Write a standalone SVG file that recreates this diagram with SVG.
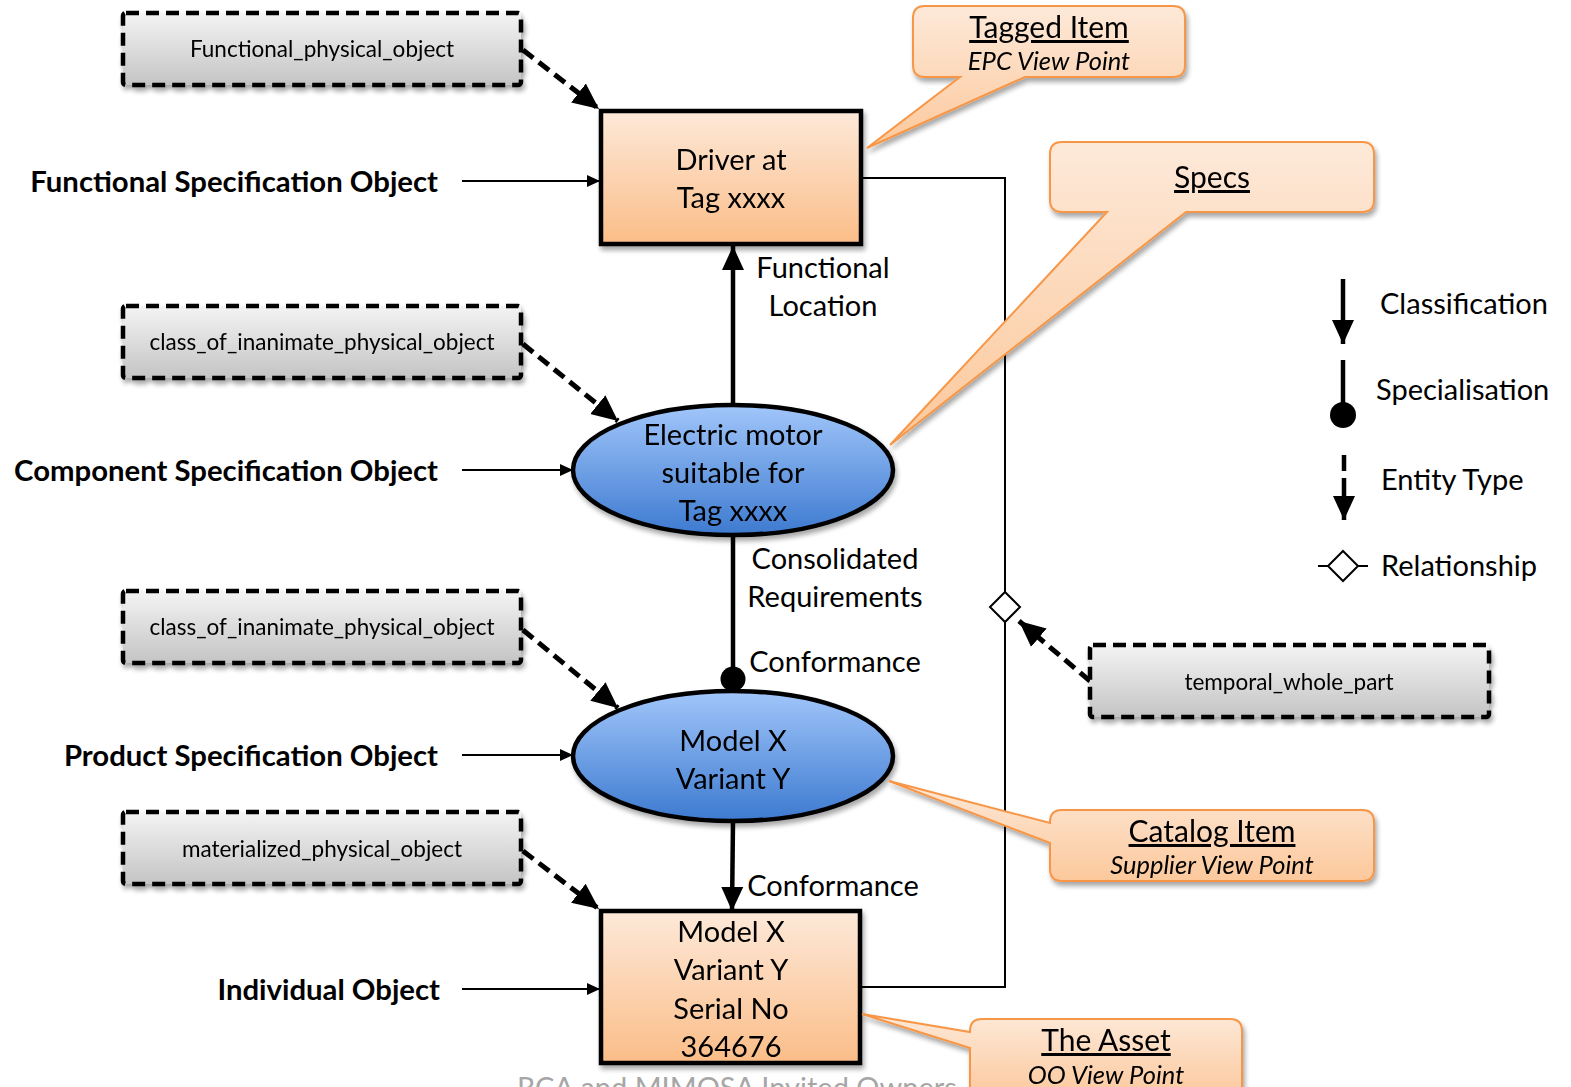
<svg xmlns="http://www.w3.org/2000/svg" width="1571" height="1087" viewBox="0 0 1571 1087">
  <defs>
    <linearGradient id="gGrey" x1="0" y1="0" x2="0" y2="1">
      <stop offset="0" stop-color="#f4f4f4"/>
      <stop offset="1" stop-color="#c4c4c4"/>
    </linearGradient>
    <linearGradient id="gOrange" x1="0" y1="0" x2="0" y2="1">
      <stop offset="0" stop-color="#fde9d9"/>
      <stop offset="1" stop-color="#fbbd88"/>
    </linearGradient>
    <linearGradient id="gCallout" x1="0" y1="0" x2="0" y2="1">
      <stop offset="0" stop-color="#fde9d9"/>
      <stop offset="1" stop-color="#fcc89b"/>
    </linearGradient>
    <linearGradient id="gBlue" x1="0" y1="0" x2="0" y2="1">
      <stop offset="0" stop-color="#a1c6fa"/>
      <stop offset="1" stop-color="#3d7ad0"/>
    </linearGradient>
    <filter id="shadow" x="-10%" y="-10%" width="125%" height="135%">
      <feGaussianBlur in="SourceAlpha" stdDeviation="2.5"/>
      <feOffset dx="2" dy="4" result="b"/>
      <feComponentTransfer><feFuncA type="linear" slope="0.35"/></feComponentTransfer>
      <feMerge><feMergeNode/><feMergeNode in="SourceGraphic"/></feMerge>
    </filter>
    <marker id="aThin" markerUnits="userSpaceOnUse" markerWidth="14" markerHeight="14" refX="13" refY="7" orient="auto">
      <path d="M0,1 L13,7 L0,13 Z" fill="#000"/>
    </marker>
    <marker id="aThick" markerUnits="userSpaceOnUse" markerWidth="26" markerHeight="24" refX="24" refY="12" orient="auto">
      <path d="M0,1 L24,12 L0,23 Z" fill="#000"/>
    </marker>
    <marker id="aDash" markerUnits="userSpaceOnUse" markerWidth="28" markerHeight="26" refX="26" refY="13" orient="auto">
      <path d="M0,1 L26,13 L0,25 Z" fill="#000"/>
    </marker>
  </defs>
  <style>
    text { font-family: Lato, "Open Sans", "Liberation Sans", sans-serif; fill: #000; }
    .grey rect { fill: url(#gGrey); stroke: #000; stroke-width: 4.5; stroke-dasharray: 13 7; }
    .grey text { font-size: 22.5px; text-anchor: middle; }
    .node { stroke: #000; stroke-width: 4.5; }
    .ntext { font-size: 29px; text-anchor: middle; }
    .side { font-size: 29.3px; font-weight: bold; text-anchor: end; }
    .lbl { font-size: 29px; text-anchor: middle; }
    .callout path { fill: url(#gCallout); stroke: #f79646; stroke-width: 2; }
    .ctitle { font-size: 30px; text-anchor: middle; text-decoration: underline; }
    .csub { font-size: 25.5px; font-style: italic; text-anchor: middle; }
    .thin { stroke: #000; stroke-width: 2; fill: none; }
    .thick { stroke: #000; stroke-width: 4.5; fill: none; }
    .dash { stroke: #000; stroke-width: 5; stroke-dasharray: 13 7; fill: none; }
    .legend { font-size: 29px; }
  </style>

  <!-- footer, partly under the asset callout -->
  <text x="517" y="1098" style="font-size:29px;fill:#a6a6a6">RCA and MIMOSA Invited Owners /</text>

  <!-- connectors -->
  <g id="connectors">
    <!-- relationship line between the tagged item and the asset -->
    <polyline class="thin" points="861,178 1005,178 1005,987 861,987"/>
    <path d="M1005,592 L1020,607 L1005,622 L990,607 Z" fill="#fff" stroke="#000" stroke-width="2"/>

    <!-- level arrows -->
    <line class="thin" x1="462" y1="181" x2="600" y2="181" marker-end="url(#aThin)"/>
    <line class="thin" x1="462" y1="470" x2="573" y2="470" marker-end="url(#aThin)"/>
    <line class="thin" x1="462" y1="755" x2="573" y2="755" marker-end="url(#aThin)"/>
    <line class="thin" x1="462" y1="989" x2="600" y2="989" marker-end="url(#aThin)"/>

    <!-- entity type arrows -->
    <line class="dash" x1="523" y1="50" x2="599" y2="109" marker-end="url(#aDash)"/>
    <line class="dash" x1="523" y1="344" x2="618" y2="421" marker-end="url(#aDash)"/>
    <line class="dash" x1="523" y1="630" x2="618" y2="708" marker-end="url(#aDash)"/>
    <line class="dash" x1="523" y1="851" x2="599" y2="909" marker-end="url(#aDash)"/>
    <line class="dash" x1="1090" y1="681" x2="1019" y2="621" marker-end="url(#aDash)"/>

    <!-- functional location (classification) -->
    <line class="thick" x1="733" y1="405" x2="733" y2="246" marker-end="url(#aThick)"/>
    <!-- consolidated requirements (specialisation) -->
    <line class="thick" x1="733" y1="536" x2="733" y2="680"/>
    <circle cx="733" cy="679" r="12.5" fill="#000"/>
    <!-- conformance (classification) -->
    <line class="thick" x1="733" y1="821" x2="732" y2="911" marker-end="url(#aThick)"/>
  </g>

  <!-- entity type boxes -->
  <g id="functional_physical_object" class="grey" filter="url(#shadow)">
    <rect x="123" y="13" width="398" height="72" rx="3"/>
    <text x="322" y="57">Functional_physical_object</text>
  </g>
  <g id="class_of_inanimate_physical_object_1" class="grey" filter="url(#shadow)">
    <rect x="123" y="306" width="398" height="72" rx="3"/>
    <text x="322" y="350">class_of_inanimate_physical_object</text>
  </g>
  <g id="class_of_inanimate_physical_object_2" class="grey" filter="url(#shadow)">
    <rect x="123" y="591" width="398" height="72" rx="3"/>
    <text x="322" y="635">class_of_inanimate_physical_object</text>
  </g>
  <g id="materialized_physical_object" class="grey" filter="url(#shadow)">
    <rect x="123" y="812" width="398" height="72" rx="3"/>
    <text x="322" y="857">materialized_physical_object</text>
  </g>
  <g id="temporal_whole_part" class="grey" filter="url(#shadow)">
    <rect x="1090" y="645" width="399" height="72" rx="3"/>
    <text x="1289" y="690">temporal_whole_part</text>
  </g>

  <!-- level labels -->
  <g id="level_labels">
    <text class="side" x="438" y="192">Functional Specification Object</text>
    <text class="side" x="438" y="481">Component Specification Object</text>
    <text class="side" x="438" y="766">Product Specification Object</text>
    <text class="side" x="440" y="1000">Individual Object</text>
  </g>

  <!-- main objects -->
  <g id="driver_at_tag" filter="url(#shadow)">
    <rect class="node" x="601" y="111" width="260" height="133" fill="url(#gOrange)"/>
    <text class="ntext" x="731" y="170">Driver at</text>
    <text class="ntext" x="731" y="208">Tag xxxx</text>
  </g>
  <g id="electric_motor" filter="url(#shadow)">
    <ellipse class="node" cx="733" cy="470" rx="160" ry="65" fill="url(#gBlue)"/>
    <text class="ntext" x="733" y="445">Electric motor</text>
    <text class="ntext" x="733" y="483">suitable for</text>
    <text class="ntext" x="733" y="521">Tag xxxx</text>
  </g>
  <g id="model_x_variant_y" filter="url(#shadow)">
    <ellipse class="node" cx="733" cy="756" rx="160" ry="65" fill="url(#gBlue)"/>
    <text class="ntext" x="733" y="751">Model X</text>
    <text class="ntext" x="733" y="789">Variant Y</text>
  </g>
  <g id="serial_no_364676" filter="url(#shadow)">
    <rect class="node" x="601" y="911" width="259" height="152" fill="url(#gOrange)"/>
    <text class="ntext" x="731" y="942">Model X</text>
    <text class="ntext" x="731" y="980">Variant Y</text>
    <text class="ntext" x="731" y="1019">Serial No</text>
    <text class="ntext" x="731" y="1057">364676</text>
  </g>

  <!-- connector labels -->
  <g id="connector_labels">
    <text class="lbl" x="823" y="278">Functional</text>
    <text class="lbl" x="823" y="316">Location</text>
    <text class="lbl" x="835" y="569">Consolidated</text>
    <text class="lbl" x="835" y="607">Requirements</text>
    <text class="lbl" x="835" y="672">Conformance</text>
    <text class="lbl" x="833" y="896">Conformance</text>
  </g>

  <!-- view point callouts -->
  <g id="tagged_item" class="callout" filter="url(#shadow)">
    <path d="M925,6 H1173 Q1185,6 1185,18 V65 Q1185,77 1173,77 H1025 L867,148 L960,77 H925 Q913,77 913,65 V18 Q913,6 925,6 Z"/>
    <text class="ctitle" x="1049" y="38">Tagged Item</text>
    <text class="csub" x="1049" y="70">EPC View Point</text>
  </g>
  <g id="specs" class="callout" filter="url(#shadow)">
    <path d="M1062,142 H1362 Q1374,142 1374,154 V200 Q1374,212 1362,212 H1186 L890,445 L1107,212 H1062 Q1050,212 1050,200 V154 Q1050,142 1062,142 Z"/>
    <text class="ctitle" x="1212" y="188">Specs</text>
  </g>
  <g id="catalog_item" class="callout" filter="url(#shadow)">
    <path d="M1062,810 H1362 Q1374,810 1374,822 V869 Q1374,881 1362,881 H1062 Q1050,881 1050,869 V843 L889,781 L1050,823 V822 Q1050,810 1062,810 Z"/>
    <text class="ctitle" x="1212" y="842">Catalog Item</text>
    <text class="csub" x="1212" y="874">Supplier View Point</text>
  </g>
  <g id="the_asset" class="callout" filter="url(#shadow)">
    <path d="M982,1019 H1230 Q1242,1019 1242,1031 V1100 H970 V1048 L862,1014 L970,1032 V1031 Q970,1019 982,1019 Z"/>
    <text class="ctitle" x="1106" y="1051">The Asset</text>
    <text class="csub" x="1106" y="1084">OO View Point</text>
  </g>

  <!-- legend -->
  <g id="legend">
    <line class="thick" x1="1343" y1="279" x2="1343" y2="344" marker-end="url(#aThick)"/>
    <text class="legend" x="1380" y="314">Classification</text>
    <line class="thick" x1="1343" y1="360" x2="1343" y2="410"/>
    <circle cx="1343" cy="415" r="13" fill="#000"/>
    <text class="legend" x="1376" y="400">Specialisation</text>
    <line class="thick" x1="1344" y1="455" x2="1344" y2="471"/>
    <line class="thick" x1="1344" y1="478" x2="1344" y2="520" marker-end="url(#aThick)"/>
    <text class="legend" x="1381" y="490">Entity Type</text>
    <line class="thin" x1="1318" y1="566" x2="1368" y2="566"/>
    <path d="M1343,551 L1358,566 L1343,581 L1328,566 Z" fill="#fff" stroke="#000" stroke-width="2"/>
    <text class="legend" x="1381" y="576">Relationship</text>
  </g>
</svg>
